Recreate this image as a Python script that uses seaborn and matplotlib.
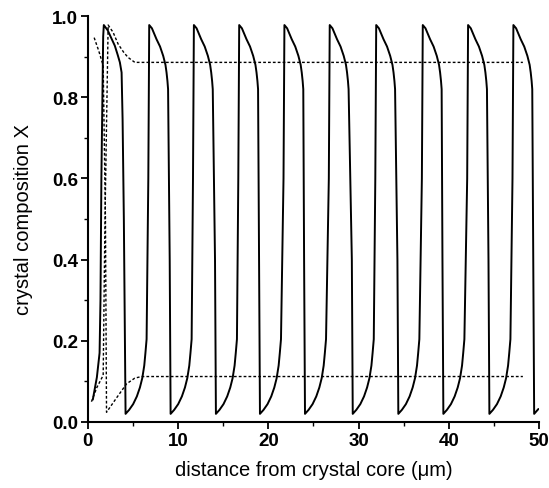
import numpy as np
import pandas as pd
import matplotlib
matplotlib.use("Agg")
import matplotlib.pyplot as plt
from matplotlib.ticker import MultipleLocator, FormatStrFormatter
import seaborn as sns

# --- data ---
# oscillatory zoning profile (solid line): distance (um) and composition X
solid_d = [0.55, 1.00, 1.30, 1.40, 1.50, 1.70, 1.77,
           2.20, 2.99, 3.30, 3.55, 3.74, 3.85, 3.99, 4.18,
           4.58, 5.02, 5.43, 5.77, 6.03, 6.25, 6.38, 6.51, 6.70, 6.80,
           7.10, 7.61, 8.00, 8.35, 8.60, 8.72, 8.82, 8.89, 9.07, 9.17,
           9.57, 10.01, 10.42, 10.76, 11.02, 11.24, 11.37, 11.50, 11.65, 11.75,
           12.05, 12.56, 12.95, 13.30, 13.55, 13.67, 13.77, 13.84, 14.09, 14.19,
           14.59, 15.03, 15.44, 15.78, 16.04, 16.26, 16.39, 16.52, 16.67, 16.77,
           17.07, 17.58, 17.97, 18.32, 18.57, 18.69, 18.79, 18.86, 18.97, 19.07,
           19.47, 19.91, 20.32, 20.66, 20.92, 21.14, 21.27, 21.40, 21.68, 21.78,
           22.08, 22.59, 22.98, 23.33, 23.58, 23.70, 23.80, 23.87, 23.96, 24.06,
           24.46, 24.90, 25.31, 25.65, 25.91, 26.13, 26.26, 26.39, 26.70, 26.80,
           27.10, 27.61, 28.00, 28.35, 28.60, 28.72, 28.82, 28.89, 29.25, 29.35,
           29.75, 30.19, 30.60, 30.94, 31.20, 31.42, 31.55, 31.68, 31.85, 31.95,
           32.25, 32.76, 33.15, 33.50, 33.75, 33.87, 33.97, 34.04, 34.30, 34.40,
           34.80, 35.24, 35.65, 35.99, 36.25, 36.47, 36.60, 36.73, 37.01, 37.11,
           37.41, 37.92, 38.31, 38.66, 38.91, 39.03, 39.13, 39.20, 39.29, 39.39,
           39.79, 40.23, 40.64, 40.98, 41.24, 41.46, 41.59, 41.72, 42.03, 42.13,
           42.43, 42.94, 43.33, 43.68, 43.93, 44.05, 44.15, 44.22, 44.39, 44.49,
           44.89, 45.33, 45.74, 46.08, 46.34, 46.56, 46.69, 46.82, 47.05, 47.15,
           47.45, 47.96, 48.35, 48.70, 48.95, 49.07, 49.17, 49.24, 49.35, 49.45,
           49.92]
solid_x = [0.055, 0.110, 0.170, 0.300, 0.600, 0.950, 0.978,
           0.965, 0.927, 0.905, 0.886, 0.861, 0.746, 0.500, 0.020,
           0.030, 0.044, 0.063, 0.085, 0.108, 0.139, 0.170, 0.204, 0.600, 0.978,
           0.970, 0.943, 0.925, 0.902, 0.880, 0.861, 0.840, 0.820, 0.400, 0.020,
           0.030, 0.044, 0.063, 0.085, 0.108, 0.139, 0.170, 0.204, 0.600, 0.978,
           0.970, 0.943, 0.925, 0.902, 0.880, 0.861, 0.840, 0.820, 0.400, 0.020,
           0.030, 0.044, 0.063, 0.085, 0.108, 0.139, 0.170, 0.204, 0.600, 0.978,
           0.970, 0.943, 0.925, 0.902, 0.880, 0.861, 0.840, 0.820, 0.400, 0.020,
           0.030, 0.044, 0.063, 0.085, 0.108, 0.139, 0.170, 0.204, 0.600, 0.978,
           0.970, 0.943, 0.925, 0.902, 0.880, 0.861, 0.840, 0.820, 0.400, 0.020,
           0.030, 0.044, 0.063, 0.085, 0.108, 0.139, 0.170, 0.204, 0.600, 0.978,
           0.970, 0.943, 0.925, 0.902, 0.880, 0.861, 0.840, 0.820, 0.400, 0.020,
           0.030, 0.044, 0.063, 0.085, 0.108, 0.139, 0.170, 0.204, 0.600, 0.978,
           0.970, 0.943, 0.925, 0.902, 0.880, 0.861, 0.840, 0.820, 0.400, 0.020,
           0.030, 0.044, 0.063, 0.085, 0.108, 0.139, 0.170, 0.204, 0.600, 0.978,
           0.970, 0.943, 0.925, 0.902, 0.880, 0.861, 0.840, 0.820, 0.400, 0.020,
           0.030, 0.044, 0.063, 0.085, 0.108, 0.139, 0.170, 0.204, 0.600, 0.978,
           0.970, 0.943, 0.925, 0.902, 0.880, 0.861, 0.840, 0.820, 0.400, 0.020,
           0.030, 0.044, 0.063, 0.085, 0.108, 0.139, 0.170, 0.204, 0.600, 0.978,
           0.970, 0.943, 0.925, 0.902, 0.880, 0.861, 0.840, 0.820, 0.400, 0.020,
           0.032]

# dashed curve that starts high, plunges, then settles at the lower level
dash_a_d = [0.70, 1.20, 1.70, 1.95, 2.07, 3.20, 4.29, 5.20, 5.95, 48.2]
dash_a_x = [0.947, 0.915, 0.878, 0.500, 0.024, 0.060, 0.094, 0.108, 0.112, 0.112]
# dashed curve that starts low, rises, then settles at the upper level
dash_b_d = [0.40, 1.00, 1.70, 1.90, 2.25, 2.80, 3.36, 4.00, 4.47, 5.21, 48.2]
dash_b_x = [0.050, 0.085, 0.115, 0.500, 0.978, 0.960, 0.931, 0.910, 0.898, 0.886, 0.886]

sns.set_theme(style="ticks")
plt.rcParams['font.family'] = ['Liberation Sans', 'DejaVu Sans']

fig = plt.figure(figsize=(5.49, 4.89), dpi=100)
ax = fig.add_axes([0.160, 0.135, 0.822, 0.830])

df_s = pd.DataFrame({"d": solid_d, "x": solid_x})
df_a = pd.DataFrame({"d": dash_a_d, "x": dash_a_x})
df_b = pd.DataFrame({"d": dash_b_d, "x": dash_b_x})

sns.lineplot(data=df_s, x="d", y="x", sort=False, estimator=None, ax=ax,
             color="black", linewidth=1.4)
sns.lineplot(data=df_a, x="d", y="x", sort=False, estimator=None, ax=ax,
             color="black", linewidth=1.0, linestyle=(0, (2.0, 1.5)))
sns.lineplot(data=df_b, x="d", y="x", sort=False, estimator=None, ax=ax,
             color="black", linewidth=1.0, linestyle=(0, (2.0, 1.5)))

ax.set_xlim(0, 50)
ax.set_ylim(0, 1.0)
ax.xaxis.set_major_locator(MultipleLocator(10))
ax.xaxis.set_minor_locator(MultipleLocator(5))
ax.yaxis.set_major_locator(MultipleLocator(0.2))
ax.yaxis.set_minor_locator(MultipleLocator(0.1))
ax.yaxis.set_major_formatter(FormatStrFormatter("%.1f"))
ax.tick_params(which="major", direction="out", length=5, width=1.3,
               labelsize=13.5, color="black", labelcolor="black", pad=2)
ax.tick_params(which="minor", direction="out", length=3, width=1.0, color="black")
for lab in ax.get_xticklabels() + ax.get_yticklabels():
    lab.set_fontweight("bold")

for s in ["left", "bottom"]:
    ax.spines[s].set_linewidth(1.5)
    ax.spines[s].set_color("black")
sns.despine(ax=ax)

ax.set_xlabel("distance from crystal core (\u03bcm)", fontsize=14.5, color="black", labelpad=8)
ax.set_ylabel("crystal composition X", fontsize=14.5, color="black", labelpad=14)

fig.savefig("out.png", dpi=100, facecolor="white")
